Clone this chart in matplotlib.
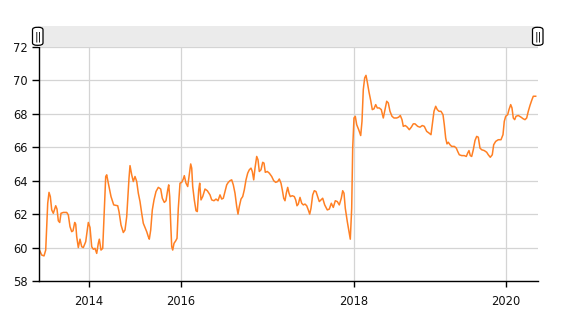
import matplotlib
matplotlib.use("Agg")
import matplotlib.pyplot as plt
from matplotlib.patches import Rectangle, FancyBboxPatch

# position on the equally spaced period axis
period = [
    38.3, 41.7, 44.0, 45.7, 47.7, 49.0, 50.3, 51.7, 53.3, 55.7,
    57.0, 58.3, 59.7, 61.0, 63.3, 66.7, 68.3, 70.0, 71.7, 73.0,
    74.7, 75.7, 76.7, 78.3, 80.0, 81.7, 83.3, 85.7, 88.3, 90.0,
    91.7, 93.3, 95.0, 96.7, 98.3, 99.3, 101.0, 102.7, 104.0, 105.7,
    106.7, 108.3, 111.0, 113.7, 117.7, 119.0, 121.0, 123.3, 125.0, 126.7,
    129.0,
    130.0, 131.7, 133.3, 135.0, 136.7, 138.3, 140.0, 141.7, 143.3, 145.0,
    146.7, 148.3, 149.3, 150.7, 152.3, 154.0, 156.0, 158.3, 160.7, 162.3,
    164.3, 166.0, 167.7, 168.7, 169.7, 170.7, 171.7, 172.7, 174.0, 175.7,
    177.0, 178.3, 180.0, 181.7, 183.3, 184.3, 186.0, 187.7, 189.3, 190.7,
    191.7, 192.7, 194.3, 196.0, 197.3, 198.7, 199.7, 201.0, 202.7, 205.0,
    207.3, 210.0, 211.7, 214.0, 216.0, 218.0, 220.0, 221.7, 223.3,
    226.7, 228.3, 230.0, 231.7, 233.3, 235.0, 236.7, 238.0, 239.3, 241.0,
    242.7, 244.3, 246.0, 247.7, 249.3, 251.0, 252.3, 253.7, 255.0, 256.7,
    258.0, 259.3, 261.0, 262.7, 264.0, 265.3, 267.3, 269.3, 271.7, 273.7,
    275.7, 277.7, 279.3, 281.0, 282.3, 283.7, 285.0, 286.3, 287.7, 289.0,
    290.3, 292.3, 294.3, 295.7, 297.0, 298.3, 300.0, 301.7, 303.3, 305.0,
    306.7, 308.3, 309.7, 311.0, 312.7, 314.3, 316.0, 317.7, 319.3,
    322.7, 324.7, 327.3, 329.3, 331.3, 333.3, 335.3, 337.3, 339.3, 341.3,
    342.7, 344.0, 345.3, 347.3, 349.0, 350.3, 351.7, 352.7, 354.0, 355.3,
    356.7, 358.7, 360.7, 362.0, 363.3, 364.7, 366.0, 367.3, 369.0, 370.7,
    372.3, 374.0, 375.7, 377.3, 379.3, 381.3, 383.3, 385.0, 386.7, 388.3,
    390.0, 392.0, 394.0, 396.7, 398.7, 400.3, 402.0, 403.3, 405.3, 407.3,
    409.3, 411.3, 413.3,
    415.0, 417.7, 420.0, 422.3, 424.3, 426.7, 429.0, 431.0, 432.3, 434.0,
    435.7, 437.3, 439.0, 441.0, 443.0, 444.3, 445.7, 447.0, 448.3, 450.0,
    451.7, 454.3, 456.3, 457.7, 459.3, 461.7, 464.3, 466.3, 467.7, 469.0,
    470.3, 471.7, 473.3, 475.0, 476.7, 478.3, 480.0, 481.7, 484.3, 486.7,
    488.3, 490.3, 492.3, 493.7, 495.7, 498.3, 501.0, 503.0, 504.3, 505.7,
    507.7, 509.0, 510.7, 512.0, 513.3, 514.7, 516.0, 518.3, 521.0, 523.3,
    525.0, 526.7, 528.3, 530.0, 531.7, 533.3, 535.7,
]

value = [
    60.0, 59.55, 59.5, 59.85, 62.65, 63.3, 63.05, 62.25, 62.05, 62.5,
    62.3, 61.6, 61.5, 62.05, 62.1, 62.1, 61.95, 61.25, 60.95, 61.0,
    61.5, 61.4, 60.65, 60.0, 60.5, 60.05, 60.0, 60.35, 61.5, 61.2,
    60.05, 59.9, 59.95, 59.65, 60.25, 60.5, 59.85, 59.95, 61.85, 64.25,
    64.35, 63.85, 63.05, 62.55, 62.5, 62.15, 61.35, 60.9, 61.05, 61.85,
    64.15,
    64.9, 64.35, 63.95, 64.25, 63.95, 63.25, 62.75, 62.05, 61.45, 61.2,
    60.95, 60.65, 60.5, 61.05, 62.25, 62.85, 63.35, 63.6, 63.5, 62.95,
    62.7, 62.8, 63.45, 63.75, 63.05, 61.45, 60.05, 59.85, 60.25, 60.4,
    60.55, 62.35, 63.85, 63.9, 64.1, 64.3, 63.85, 63.65, 64.35, 65.0,
    64.75, 63.65, 62.85, 62.2, 62.15, 63.45, 63.85, 62.85, 63.05, 63.5,
    63.4, 63.15, 62.85, 62.8, 62.9, 62.8, 63.15, 62.9, 62.95,
    63.75, 63.9, 64.0, 64.05, 63.75, 63.25, 62.45, 62.0, 62.45, 62.9,
    63.05, 63.45, 64.05, 64.45, 64.65, 64.75, 64.55, 64.05, 64.75, 65.45,
    65.25, 64.55, 64.65, 65.1, 65.05, 64.5, 64.55, 64.45, 64.25, 64.0,
    63.9, 63.95, 64.1, 63.85, 63.45, 62.95, 62.8, 63.25, 63.6, 63.25,
    63.05, 63.1, 63.05, 62.85, 62.5, 62.6, 63.0, 62.65, 62.55, 62.6,
    62.5, 62.25, 62.0, 62.35, 63.15, 63.4, 63.35, 63.05, 62.75,
    62.95, 62.55, 62.25, 62.3, 62.65, 62.4, 62.8, 62.75, 62.55, 62.95,
    63.4, 63.25, 62.35, 61.55, 60.95, 60.5, 62.35, 65.95, 67.75, 67.85,
    67.35, 67.05, 66.7, 67.55, 69.45, 70.15, 70.3, 69.9, 69.3, 68.8,
    68.25, 68.3, 68.55, 68.35, 68.35, 68.25, 67.75, 68.25, 68.75, 68.65,
    68.15, 67.85, 67.75, 67.75, 67.8, 67.9, 67.65, 67.25, 67.3, 67.2,
    67.05, 67.2, 67.4,
    67.4, 67.25, 67.2, 67.3, 67.25, 66.95, 66.85, 66.75, 67.35, 68.15,
    68.45, 68.25, 68.15, 68.15, 67.95, 67.35, 66.55, 66.2, 66.3, 66.15,
    66.05, 66.05, 65.95, 65.75, 65.55, 65.5, 65.5, 65.45, 65.65, 65.8,
    65.5, 65.45, 65.85, 66.4, 66.65, 66.6, 65.95, 65.85, 65.8, 65.7,
    65.55, 65.4, 65.55, 66.15, 66.35, 66.45, 66.45, 66.75, 67.55, 67.85,
    67.95, 68.25, 68.55, 68.35, 67.75, 67.65, 67.85, 67.9, 67.8, 67.7,
    67.65, 67.75, 68.15, 68.5, 68.8, 69.05, 69.05,
]

year_pos = [89.0, 180.5, 354.0, 505.7]
year_labels = ["2014", "2016", "2018", "2020"]
y_ticks = [58, 60, 62, 64, 66, 68, 70, 72]

fig = plt.figure(figsize=(5.66, 3.15), dpi=100)
ax = fig.add_axes([0.0684, 0.108, 0.8821, 0.743])

ax.plot(period, value, color="#ff8024", linewidth=1.1, solid_joinstyle="round")

ax.set_xlim(38.7, 538)
ax.set_ylim(58, 72)
ax.set_yticks(y_ticks)
ax.set_xticks(year_pos)
ax.set_xticklabels(year_labels)
ax.grid(True, color="#d4d4d4", linewidth=0.9)
ax.set_axisbelow(True)
for side in ["top", "right"]:
    ax.spines[side].set_visible(False)
for side in ["left", "bottom"]:
    ax.spines[side].set_color("black")
    ax.spines[side].set_linewidth(1.0)
ax.tick_params(axis="both", width=1, color="black", labelsize=8.3, labelcolor="#111111")
ax.tick_params(axis="y", length=5, pad=3)
ax.tick_params(axis="x", length=4, pad=6)

# scrollbar strip on top
fig.patches.append(Rectangle((38 / 566, 1 - 47 / 315), 500 / 566, 21 / 315,
                             transform=fig.transFigure, facecolor="#ebebeb",
                             edgecolor="none", zorder=1))
for hx in [32.5, 532.5]:
    fig.patches.append(FancyBboxPatch((hx / 566, 1 - 45.3 / 315), 10.5 / 566, 18 / 315,
                                      boxstyle="round,pad=0,rounding_size=0.008",
                                      transform=fig.transFigure, facecolor="white",
                                      edgecolor="black", linewidth=0.9, zorder=2))
    fig.text((hx + 5.25) / 566, 1 - 36.3 / 315, "||", ha="center", va="center",
             fontsize=7.5, color="black", zorder=3)

fig.savefig("out.png", dpi=100)
